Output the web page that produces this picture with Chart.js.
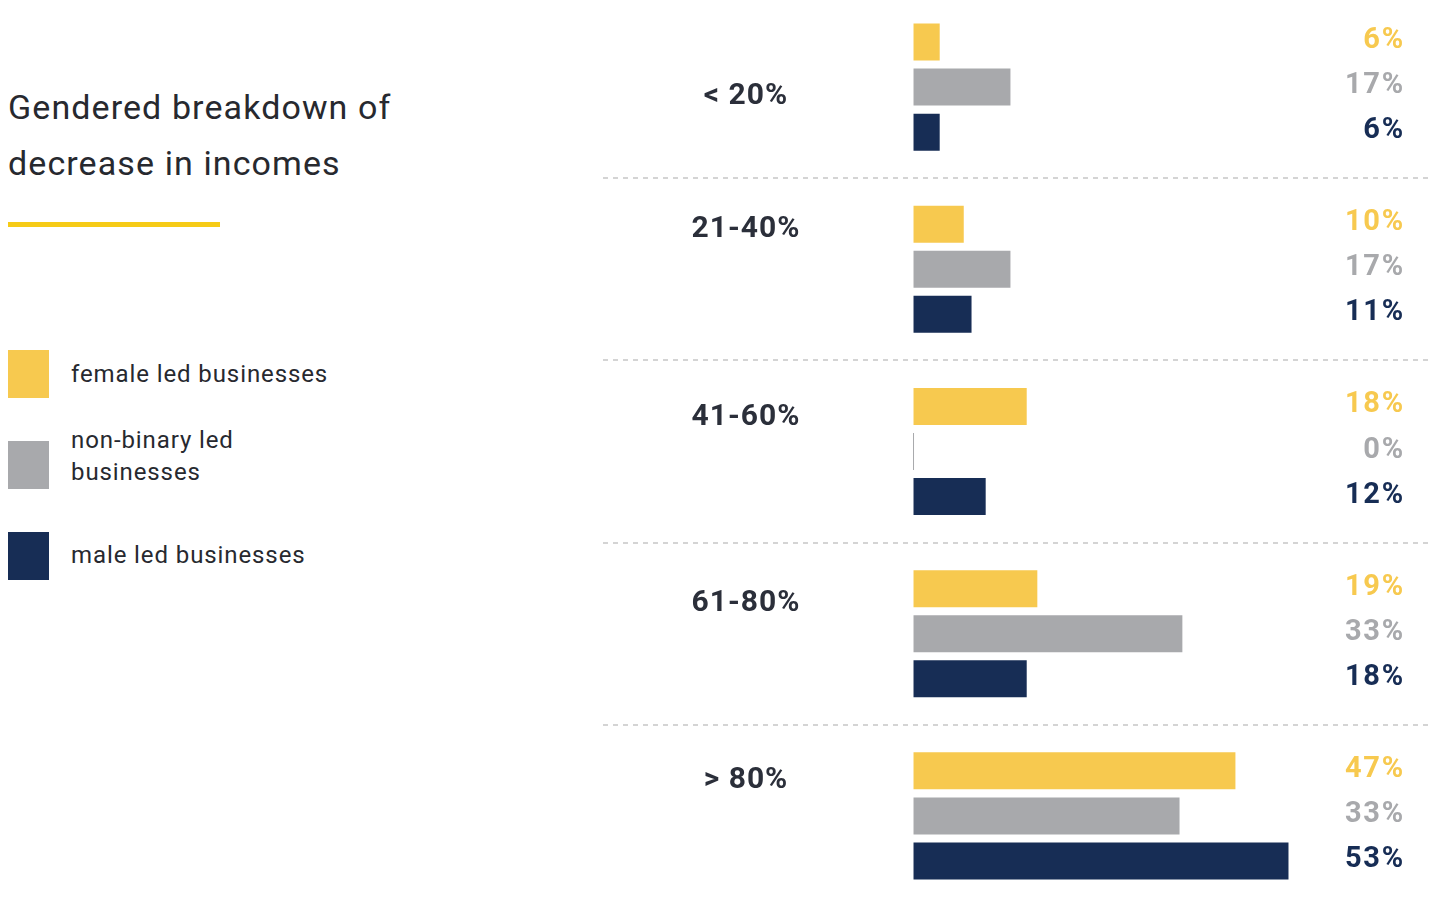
<!DOCTYPE html>
<html>
<head>
<meta charset="utf-8">
<script src="https://cdn.jsdelivr.net/npm/chart.js@4/dist/chart.umd.min.js"></script>
<style>
  html, body { margin: 0; padding: 0; background: #ffffff; }
  body { width: 1429px; height: 899px; position: relative; overflow: hidden; font-family: Roboto, "Noto Sans", sans-serif; color: #27292f; }
  #title { position: absolute; left: 8px; top: 79px; font-size: 34px; line-height: 56px; letter-spacing: 1.1px; font-weight: 400; }
  #rule { position: absolute; left: 8px; top: 222px; width: 212px; height: 5px; background: #F6CB16; }
  .sw { position: absolute; left: 8px; width: 41px; height: 48px; }
  .lt { position: absolute; left: 71px; font-size: 24px; line-height: 32px; letter-spacing: 0.9px; }
  #wrap { position: absolute; left: 603px; top: -4px; width: 826px; height: 911px; }
</style>
</head>
<body>
<div id="title">Gendered breakdown of<br>decrease in incomes</div>
<div id="rule"></div>
<div id="legend"></div>
<div id="wrap"><canvas id="c" width="826" height="911"></canvas></div>
<script>
// ---- data ----
const categories = ['< 20%', '21-40%', '41-60%', '61-80%', '> 80%'];
const seriesNames = ['female led businesses', 'non-binary led businesses', 'male led businesses'];
const legendLines = [['female led businesses'], ['non-binary led', 'businesses'], ['male led businesses']];
// bar lengths as drawn (scaled so the longest bar = 53)
const femaleBars = [3.7, 7.1, 16.0, 17.5, 45.5];
const nonBinaryBars = [13.7, 13.7, 0, 38.0, 37.6];
const maleBars = [3.7, 8.2, 10.2, 16.0, 53.0];
// printed percentages
const femaleLabels = [6, 10, 18, 19, 47];
const nonBinaryLabels = [17, 17, 0, 33, 33];
const maleLabels = [6, 11, 12, 18, 53];

const colors = ['#F7C94F', '#A8A9AC', '#172D55'];

// legend (HTML)
const legendTops = [350, 441, 532];
const legendTextTops = [358, 424, 539];
const legendEl = document.getElementById('legend');
legendLines.forEach((lines, i) => {
  const sw = document.createElement('div');
  sw.className = 'sw';
  sw.style.top = legendTops[i] + 'px';
  sw.style.background = colors[i];
  legendEl.appendChild(sw);
  const t = document.createElement('div');
  t.className = 'lt';
  t.style.top = legendTextTops[i] + 'px';
  t.innerHTML = lines.join('<br>');
  legendEl.appendChild(t);
});

const valueLabels = [femaleLabels, nonBinaryLabels, maleLabels];
const catLabelDy = [9, -40, -34, -30, -35];

const labelPlugin = {
  id: 'labels',
  afterDatasetsDraw(chart) {
    const ctx = chart.ctx;
    ctx.save();
    // value labels
    ctx.font = 'bold 29px Roboto, sans-serif';
    ctx.textAlign = 'right';
    ctx.textBaseline = 'alphabetic';
    try { ctx.letterSpacing = '1.8px'; } catch (e) {}
    chart.data.datasets.forEach((ds, di) => {
      const meta = chart.getDatasetMeta(di);
      meta.data.forEach((bar, i) => {
        ctx.fillStyle = colors[di];
        ctx.fillText(valueLabels[di][i] + '%', 802, bar.y + 6);
      });
    });
    // category labels
    const yScale = chart.scales.y;
    ctx.font = 'bold 30px Roboto, sans-serif';
    ctx.textAlign = 'center';
    ctx.textBaseline = 'middle';
    ctx.fillStyle = '#2b2f3a';
    try { ctx.letterSpacing = '1px'; } catch (e) {}
    categories.forEach((c, i) => {
      const y = yScale.getPixelForValue(i) + catLabelDy[i];
      ctx.fillText(c, 143, y);
    });
    ctx.restore();
  }
};

new Chart(document.getElementById('c'), {
  type: 'bar',
  data: {
    labels: categories,
    datasets: [
      { label: seriesNames[0], data: femaleBars, backgroundColor: colors[0] },
      { label: seriesNames[1], data: nonBinaryBars, backgroundColor: colors[1], minBarLength: 1 },
      { label: seriesNames[2], data: maleBars, backgroundColor: colors[2] }
    ]
  },
  options: {
    indexAxis: 'y',
    responsive: false,
    maintainAspectRatio: false,
    devicePixelRatio: 1,
    animation: false,
    layout: { padding: 0 },
    datasets: { bar: { categoryPercentage: 0.7418, barPercentage: 0.8222 } },
    plugins: { legend: { display: false }, tooltip: { enabled: false }, title: { display: false } },
    scales: {
      x: { display: false, min: -43.89, max: 72.86 },
      y: {
        display: true,
        ticks: { display: false },
        grid: { display: true, offset: true, drawTicks: false, color: '#d4d4d4', lineWidth: 2 },
        border: { display: false, dash: [5, 5] }
      }
    }
  },
  plugins: [labelPlugin]
});
</script>
</body>
</html>
